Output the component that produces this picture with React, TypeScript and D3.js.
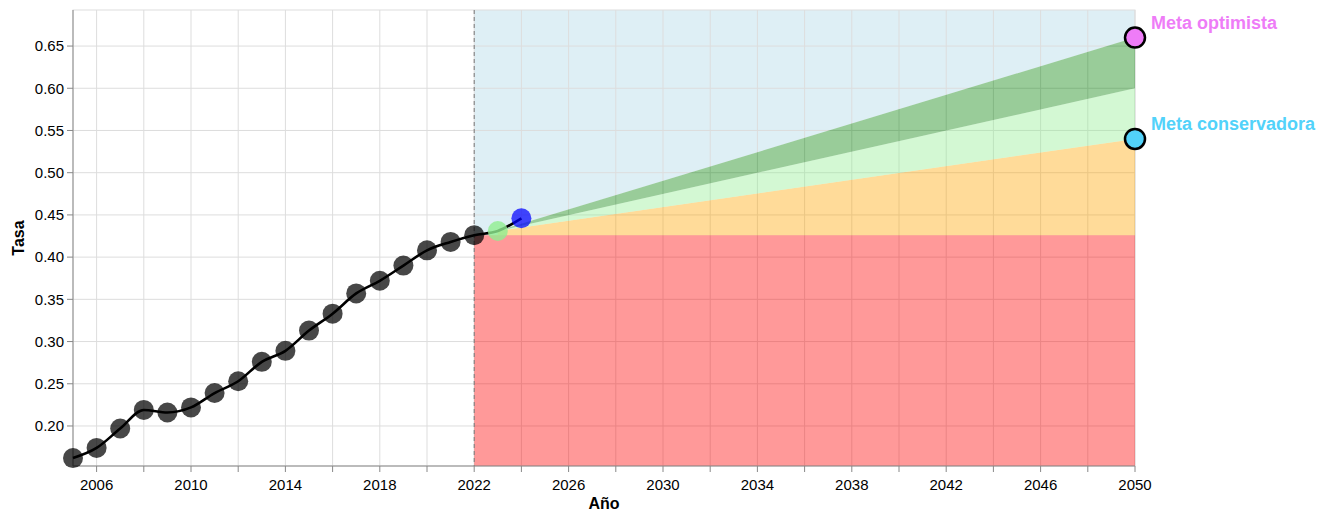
import React from "react";
import * as d3 from "d3";

const years = [2005, 2006, 2007, 2008, 2009, 2010, 2011, 2012, 2013, 2014, 2015, 2016, 2017, 2018, 2019, 2020, 2021, 2022, 2023, 2024];
const rates = [0.162, 0.174, 0.197, 0.219, 0.216, 0.222, 0.239, 0.253, 0.276, 0.289, 0.313, 0.333, 0.357, 0.372, 0.390, 0.408, 0.418, 0.426, 0.431, 0.446];
const pointKinds = ["h", "h", "h", "h", "h", "h", "h", "h", "h", "h", "h", "h", "h", "h", "h", "h", "h", "h", "start", "current"];

const xTicks = [2006, 2008, 2010, 2012, 2014, 2016, 2018, 2020, 2022, 2024, 2026, 2028, 2030, 2032, 2034, 2036, 2038, 2040, 2042, 2044, 2046, 2048, 2050];
const xLabels = [2006, 2010, 2014, 2018, 2022, 2026, 2030, 2034, 2038, 2042, 2046, 2050];
const yTicks = [0.2, 0.25, 0.3, 0.35, 0.4, 0.45, 0.5, 0.55, 0.6, 0.65];

const cutYear = 2022;
const endYear = 2050;
const baseRate = 0.426;
const projYears = [2023, 2050];
const consRates = [0.431, 0.54];
const midRates = [0.431, 0.6];
const optRates = [0.431, 0.66];

const goalNames = ["Meta optimista", "Meta conservadora"];
const goalValues = [0.66, 0.54];
const goalColors = ["#ee7cf7", "#52d2fa"];

const FONT = "'Liberation Sans', Arial, Helvetica, sans-serif";

export default function App() {
  const W = 1328, H = 512;
  const L = 73, R = 1135, T = 10, B = 466;
  const x = d3.scaleLinear().domain([2005, 2050]).range([L, R]);
  const y = d3.scaleLinear().domain([0.1526, 0.6927]).range([B, T]);

  const band = (lo: number[] | null, hi: number[]) =>
    d3.area<number>()
      .x((d, i) => x(projYears[i]))
      .y0((d, i) => y(lo ? lo[i] : baseRate))
      .y1((d, i) => y(hi[i]))(projYears as any) as string;

  const line = d3.line<number>()
    .x((d, i) => x(years[i]))
    .y((d) => y(d))
    .curve(d3.curveMonotoneX)(rates) as string;

  const redRect = { x: x(cutYear), y: y(baseRate), w: x(endYear) - x(cutYear), h: B - y(baseRate) };
  const erasePath = band(null, optRates);

  return (
    <svg width={W} height={H} style={{ position: "absolute", left: 0, top: 0, fontFamily: FONT }}>
      <rect x={0} y={0} width={W} height={H} fill="#fff" />
      <rect x={x(cutYear)} y={T} width={x(endYear) - x(cutYear)} height={B - T} fill="lightblue" opacity={0.4} />
      <rect x={redRect.x} y={redRect.y} width={redRect.w} height={redRect.h} fill="#fff" />
      <path d={erasePath} fill="#fff" />
      <g stroke="#ddd" strokeWidth={1}>
        {xTicks.map((t) => (
          <line key={"gx" + t} x1={x(t)} x2={x(t)} y1={T} y2={B} />
        ))}
        {yTicks.map((t) => (
          <line key={"gy" + t} x1={L} x2={R} y1={y(t)} y2={y(t)} />
        ))}
      </g>
      <rect x={L} y={T} width={R - L} height={B - T} fill="none" stroke="#ddd" />
      <rect x={redRect.x} y={redRect.y} width={redRect.w} height={redRect.h} fill="red" opacity={0.4} />
      <path d={band(null, consRates)} fill="orange" opacity={0.4} />
      <path d={band(consRates, midRates)} fill="lightgreen" opacity={0.4} />
      <path d={band(midRates, optRates)} fill="green" opacity={0.4} />
      <line x1={x(cutYear)} x2={x(cutYear)} y1={T} y2={B} stroke="#777" strokeDasharray="4,3" strokeWidth={1} />
      <g>
        <line x1={L} x2={R} y1={B} y2={B} stroke="#888" />
        {xTicks.map((t) => (
          <line key={"tx" + t} x1={x(t)} x2={x(t)} y1={B} y2={B + 6} stroke="#888" />
        ))}
        {xLabels.map((t) => (
          <text key={"lx" + t} x={x(t)} y={B + 24} textAnchor="middle" fontSize={15} fill="#000">{t}</text>
        ))}
        <text x={(L + R) / 2} y={B + 43} textAnchor="middle" fontSize={16} fontWeight="bold" fill="#000">Año</text>
      </g>
      <g>
        <line x1={L} x2={L} y1={T} y2={B} stroke="#888" />
        {yTicks.map((t) => (
          <line key={"ty" + t} x1={L - 6} x2={L} y1={y(t)} y2={y(t)} stroke="#888" />
        ))}
        {yTicks.map((t) => (
          <text key={"ly" + t} x={L - 9} y={y(t)} dy="0.35em" textAnchor="end" fontSize={15} fill="#000">{d3.format(".2f")(t)}</text>
        ))}
        <text transform={`translate(${24},${(T + B) / 2}) rotate(-90)`} textAnchor="middle" fontSize={16} fontWeight="bold" fill="#000">Tasa</text>
      </g>
      <path d={line} fill="none" stroke="#000" strokeWidth={2.6} />
      {rates.map((v, i) => {
        const k = pointKinds[i];
        const fill = k === "h" ? "#000" : k === "start" ? "lightgreen" : "#0000ff";
        const op = k === "h" ? 0.72 : k === "start" ? 0.8 : 0.72;
        return <circle key={"p" + i} cx={x(years[i])} cy={y(v)} r={10} fill={fill} opacity={op} />;
      })}
      {goalValues.map((v, i) => (
        <g key={"g" + i}>
          <circle cx={x(endYear)} cy={y(v)} r={10} fill={goalColors[i]} stroke="#000" strokeWidth={2.5} />
          <text x={x(endYear) + 16} y={y(v) - 9} fontSize={18} fontWeight="bold" fill={goalColors[i]}>{goalNames[i]}</text>
        </g>
      ))}
    </svg>
  );
}
